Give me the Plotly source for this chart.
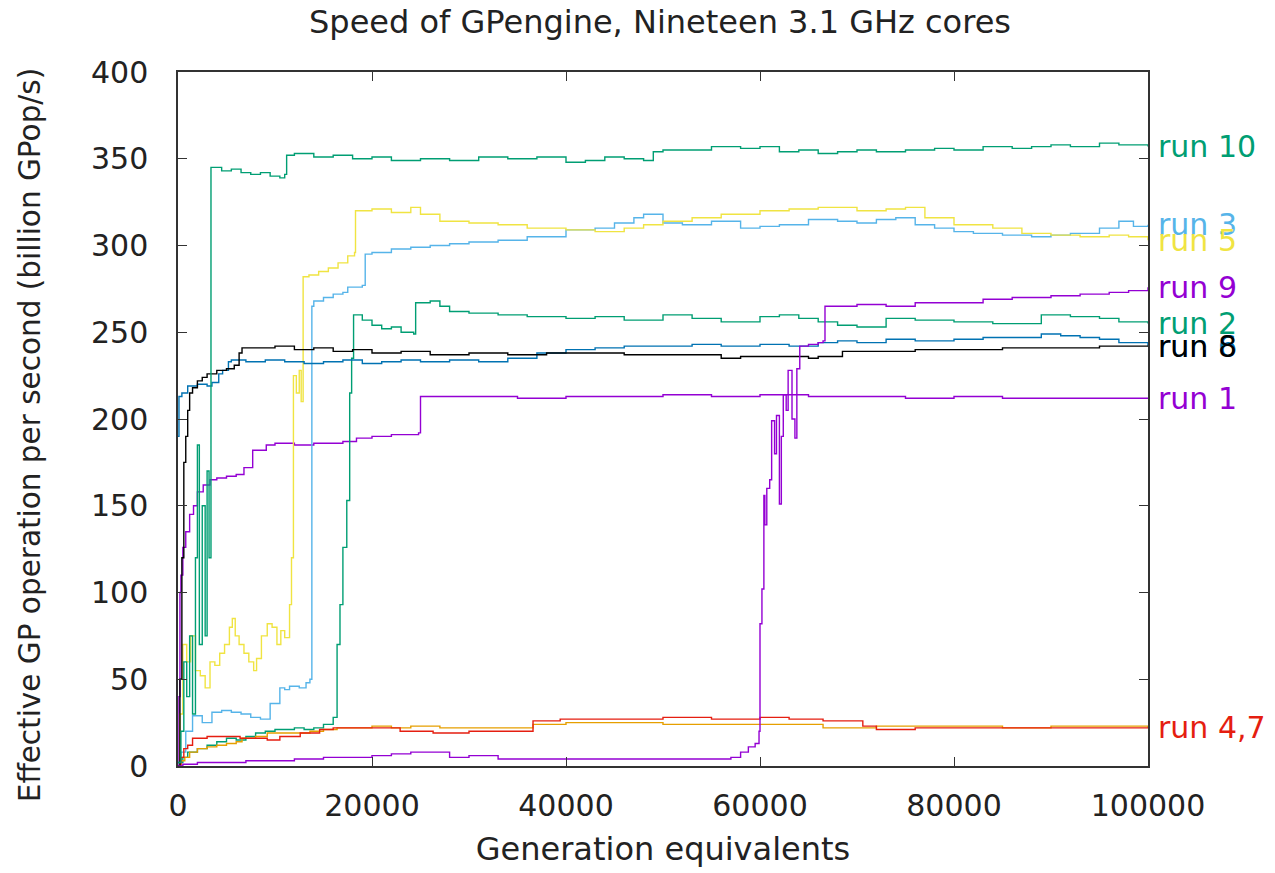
import plotly.graph_objects as go

# ---------------- data ----------------
run1_x = [0, 100, 200, 300, 500, 800, 1200, 1600, 2000, 2600, 3300, 4000, 5000, 6000, 6800, 7700, 9100, 10000,
          12000, 14000, 16000, 17000, 18400, 20000, 22000, 24800, 25000, 30000, 35000, 40000, 45000, 50000,
          55000, 60000, 65000, 70000, 75000, 80000, 85000, 90000, 95000, 100000]
run1_y = [0, 40, 100, 110, 126, 135, 145, 150, 158, 162, 165, 166, 167, 168, 172, 182, 185, 186,
          185, 186, 186, 187, 189, 190, 191, 192, 213, 213, 212, 213, 213, 214,
          213, 214, 213, 213, 212, 213, 212, 212, 212, 212]

run2_x = [0, 500, 1000, 2000, 3000, 4000, 5000, 6000, 7000, 8000, 9000, 10000, 11000, 12000, 13000, 14000,
          15000, 16000, 16400, 16700, 17000, 17400, 17700, 17900, 18100, 19000, 20000, 21000, 22000, 23000,
          24300, 24500, 26000, 27000, 28000, 30000, 33000, 36000, 40000, 43000, 46000, 50000, 53000, 56000,
          60000, 62000, 64000, 66000, 68000, 70000, 71000, 73000, 76000, 80000, 84000, 88000, 89000, 92000,
          95000, 97000, 100000]
run2_y = [2, 5, 8, 10, 12, 14, 16, 15, 17, 19, 20, 21, 21, 22, 21, 22,
          24, 28, 70, 93, 126, 153, 215, 235, 260, 257, 254, 252, 253, 250,
          249, 267, 268, 265, 262, 261, 260, 259, 258, 259, 257, 260, 258, 256,
          259, 260, 258, 256, 254, 253, 253, 258, 257, 256, 255, 255, 260, 259,
          258, 256, 255]

run3_x = [0, 300, 800, 1500, 2500, 3500, 4500, 5500, 6500, 7500, 8500, 9500, 10500, 11000, 11500, 12500,
          13200, 13600, 13800, 14000, 15000, 16000, 17000, 17500, 19000, 19300, 20000, 22000, 24000, 26000,
          28000, 30000, 33000, 36000, 40000, 43000, 45000, 47000, 48000, 50000, 52000, 55000, 58000, 60000,
          62000, 65000, 68000, 70000, 72000, 74000, 76000, 78000, 80000, 82000, 85000, 88000, 90000, 92000,
          95000, 97000, 98500, 100000]
run3_y = [2, 8, 20, 29, 25, 31, 32, 31, 30, 28, 27, 36, 45, 44, 46, 45,
          48, 50, 265, 268, 270, 272, 273, 276, 277, 295, 296, 298, 299, 300,
          301, 302, 303, 305, 309, 310, 313, 316, 318, 313, 312, 314, 310, 311,
          312, 315, 314, 313, 315, 316, 312, 310, 308, 307, 306, 305, 306, 307,
          310, 314, 311, 312]

run4_x = [0, 300, 700, 1200, 2000, 3000, 4000, 5000, 6000, 6600, 8000, 9200, 11000, 13600, 15000, 16400,
          18000, 20000, 22000, 24000, 27000, 30000, 34200, 36600, 40000, 45000, 50000, 55000, 60000, 63000,
          66500, 69000, 72000, 76000, 80000, 85000, 90000, 95000, 100000]
run4_y = [0, 3, 5, 8, 10, 11, 12, 13, 14, 16, 17, 19, 19, 20, 21, 22,
          22, 23, 22, 23, 22, 22, 22, 24, 25, 25, 24, 24, 24, 24,
          22, 22, 23, 23, 23, 22, 23, 23, 22]

run5_x = [0, 200, 500, 900, 1300, 1800, 2300, 2800, 3300, 3800, 4300, 4800, 5300, 5600, 5900, 6300, 6800,
          7300, 7800, 8100, 8600, 9200, 9700, 10200, 10600, 11000, 11500, 11700, 11900, 12200, 12500, 12700,
          12900, 13500, 14500, 15500, 16500, 17500, 18200, 18300, 20000, 22000, 24000, 25000, 27000, 30000,
          33000, 36000, 40000, 43000, 46000, 48000, 50000, 53000, 56000, 60000, 63000, 66000, 70000, 73000,
          75000, 77000, 80000, 84000, 87000, 90000, 93000, 96000, 98000, 100000]
run5_y = [0, 30, 70, 60, 75, 55, 52, 45, 60, 58, 65, 70, 80, 85, 75, 70, 65,
          60, 55, 62, 75, 82, 80, 70, 78, 74, 93, 120, 225, 215, 228, 210,
          282, 283, 285, 287, 290, 294, 296, 320, 321, 319, 322, 318, 314, 313,
          312, 310, 309, 308, 310, 312, 314, 316, 318, 320, 321, 322, 320, 321,
          322, 316, 312, 310, 307, 306, 305, 306, 305, 303]

run6_x = [0, 100, 400, 1000, 2000, 3000, 3500, 4200, 4600, 5200, 5500, 7000, 9000, 11000, 13000, 15000,
          17000, 19000, 21000, 23000, 25000, 28000, 31000, 34000, 37000, 40000, 43000, 46000, 50000, 53000,
          56000, 60000, 63000, 66000, 68000, 70000, 73000, 76000, 80000, 83000, 86000, 89000, 91000, 93000,
          95000, 97000, 100000]
run6_y = [190, 213, 215, 219, 220, 219, 221, 226, 228, 233, 234, 233, 234, 233, 232, 233,
          234, 232, 233, 234, 233, 234, 233, 235, 238, 240, 241, 242, 242, 243,
          242, 243, 242, 244, 245, 244, 246, 245, 246, 247, 247, 249, 248, 247,
          246, 244, 242]

run7_x = [0, 300, 600, 1000, 1500, 3000, 5000, 6400, 8000, 9200, 10500, 12600, 14600, 16000, 18000, 20000,
          22900, 26300, 30000, 34200, 36600, 39400, 45000, 50000, 55000, 60000, 63000, 66500, 70600, 72000,
          76000, 80000, 85000, 90000, 95000, 100000]
run7_y = [0, 5, 10, 12, 16, 17, 17, 16, 16, 15, 17, 19, 21, 22, 22, 22,
          20, 19, 20, 20, 26, 27, 27, 28, 27, 28, 27, 26, 23, 21,
          22, 22, 22, 22, 22, 22]

run8_x = [0, 200, 400, 600, 800, 1000, 1200, 1500, 2000, 2500, 3000, 4000, 5000, 5800, 6300, 6600, 8000,
          10000, 12000, 14000, 16000, 18000, 20000, 23000, 26000, 30000, 34000, 38000, 42000, 46000, 50000,
          54000, 56000, 58000, 62000, 65000, 66000, 68500, 72000, 76000, 80000, 85000, 90000, 95000, 100000]
run8_y = [0, 50, 120, 175, 190, 205, 215, 218, 222, 224, 226, 228, 229, 231, 238, 241, 241,
          242, 240, 241, 239, 240, 238, 239, 237, 238, 237, 238, 238, 237, 237,
          237, 235, 236, 236, 235, 236, 239, 239, 240, 240, 241, 241, 242, 242]

run9_x = [0, 500, 2000, 5000, 7000, 9000, 12000, 15000, 17000, 20000, 22000, 24000, 26000, 28000, 30000,
          33000, 36000, 40000, 45000, 50000, 55000, 57000, 58000, 58800, 59500, 59900, 60000, 60200, 60400,
          60500, 60700, 61000, 61200, 61500, 61700, 62000, 62200, 62400, 62700, 62900, 63300, 63600, 63800,
          64100, 65000, 66000, 66500, 66700, 70000, 73000, 76000, 80000, 83000, 86000, 90000, 93000, 96000,
          98000, 100000]
run9_y = [0, 1, 2, 2, 3, 3, 4, 5, 5, 6, 7, 8, 8, 5, 6,
          4, 4, 4, 4, 4, 4, 5, 8, 11, 13, 20, 82, 102, 156,
          139, 160, 165, 199, 180, 202, 151, 190, 214, 205, 228, 200, 189, 229,
          242, 243, 244, 245, 265, 266, 265, 267, 267, 269, 270, 271, 272, 273,
          274, 276]

run10_x = [0, 300, 600, 900, 1200, 1500, 1800, 2000, 2200, 2500, 2800, 3000, 3200, 3400, 4500, 5500, 6500,
           7500, 8500, 9500, 10500, 11000, 11200, 12000, 14000, 16000, 18000, 20000, 22000, 25000, 28000,
           31000, 34000, 37000, 40000, 42000, 44000, 46000, 48000, 49000, 50000, 52000, 55000, 58000, 60000,
           62000, 64000, 66000, 68000, 70000, 72000, 75000, 78000, 80000, 83000, 86000, 88000, 90000, 92000,
           95000, 97000, 100000]
run10_y = [2, 20, 60, 40, 75, 30, 120, 185, 70, 150, 75, 170, 120, 345, 343, 344, 342,
           341, 342, 340, 339, 341, 352, 353, 351, 352, 350, 351, 349, 350, 349,
           351, 350, 351, 348, 349, 351, 350, 349, 354, 355, 355, 357, 356, 357,
           354, 355, 353, 354, 355, 354, 355, 356, 355, 357, 356, 357, 358, 357,
           359, 358, 357]

run_names = ["run 1", "run 2", "run 3", "run 4", "run 5", "run 6", "run 7", "run 8", "run 9", "run 10"]
run_colors = ["#9400d3", "#009e73", "#56b4e9", "#e69f00", "#f0e442",
              "#0072b2", "#e51e10", "#000000", "#9400d3", "#009e73"]
series = [(run1_x, run1_y), (run2_x, run2_y), (run3_x, run3_y), (run4_x, run4_y), (run5_x, run5_y),
          (run6_x, run6_y), (run7_x, run7_y), (run8_x, run8_y), (run9_x, run9_y), (run10_x, run10_y)]

# end labels (name, which series' last value gives its height)
label_texts = ["run 1", "run 2", "run 3", "run 4,7", "run 5", "run 6", "run 8", "run 9", "run 10"]
label_series = [0, 1, 2, 6, 4, 5, 7, 8, 9]

x_ticks = [0, 20000, 40000, 60000, 80000, 100000]
y_ticks = [0, 50, 100, 150, 200, 250, 300, 350, 400]

FONT = "DejaVu Sans"
TXT = "#222222"

fig = go.Figure()
for (xs, ys), name, col in zip(series, run_names, run_colors):
    fig.add_trace(go.Scatter(x=xs, y=ys, mode="lines", name=name,
                             line=dict(color=col, width=1.4, shape="hv"),
                             showlegend=False))

for txt, si in zip(label_texts, label_series):
    fig.add_annotation(x=1.0, xref="paper", y=series[si][1][-1], yref="y",
                       text=txt, showarrow=False, xanchor="left", yanchor="middle",
                       xshift=8, font=dict(family=FONT, size=30, color=run_colors[si]))

# y-axis title (placed as in the reference, slightly below the axis centre)
fig.add_annotation(x=-0.153, xref="paper", y=0.476, yref="paper", textangle=-90,
                   text="Effective GP operation per second (billion GPop/s)", showarrow=False,
                   xanchor="center", yanchor="middle",
                   font=dict(family=FONT, size=29.5, color=TXT))

axis_common = dict(showline=True, linecolor="#333333", linewidth=1.5, mirror="ticks",
                   ticks="inside", ticklen=9, tickwidth=1.3, tickcolor="#333333",
                   showgrid=False, zeroline=False,
                   tickfont=dict(family=FONT, size=30, color=TXT))

fig.update_layout(
    width=1275, height=873,
    margin=dict(l=178, r=127, t=72, b=103),
    paper_bgcolor="white", plot_bgcolor="white",
    title=dict(text="Speed of GPengine, Nineteen 3.1 GHz cores",
               font=dict(family=FONT, size=32, color=TXT),
               x=660 / 1275, xanchor="center", y=1 - 22 / 873, yanchor="middle", yref="container"),
    xaxis=dict(range=[0, 100000], tickvals=x_ticks, ticktext=[str(v) for v in x_ticks],
               title=dict(text="Generation equivalents", font=dict(family=FONT, size=32, color=TXT), standoff=16),
               ticklabelstandoff=12, **axis_common),
    yaxis=dict(range=[0, 400], tickvals=y_ticks, ticktext=[str(v) for v in y_ticks],
               ticklabelstandoff=22, **axis_common),
)

fig.write_html("out.html")
